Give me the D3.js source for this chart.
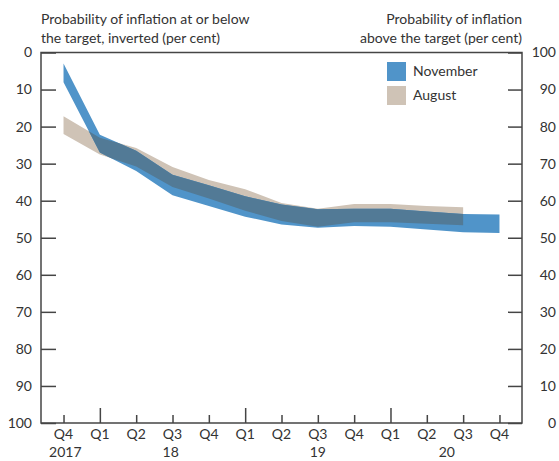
<!DOCTYPE html>
<html>
<head>
<meta charset="utf-8">
<script src="https://cdn.jsdelivr.net/npm/d3@7"></script>
<style>
  html, body { margin: 0; padding: 0; background: #fff; }
  svg { display: block; }
  text { font-family: Lato, "Open Sans", sans-serif; fill: #333; }
</style>
</head>
<body>
<div id="chart"></div>
<script>
// ---- data ----
const quarters = ["Q4","Q1","Q2","Q3","Q4","Q1","Q2","Q3","Q4","Q1","Q2","Q3","Q4"];
const years = ["2017","18","19","20"];
const yearAt = [0.05, 2.95, 7, 10.55];          // quarter index under which each year label sits
const yearStart = [1, 5, 9];                    // indices of Q1 ticks (long ticks)
const leftTicks = [0,10,20,30,40,50,60,70,80,90,100];
const rightTicks = [100,90,80,70,60,50,40,30,20,10,0];

// probability of inflation at or below target, inverted (per cent) - band edges
const novTop    = [3.0, 22.2, 26.5, 33.0, 35.8, 38.8, 41.0, 42.3, 42.2, 42.2, 42.9, 43.6, 43.7];
const novBottom = [8.0, 27.0, 32.0, 38.5, 41.4, 44.3, 46.4, 47.3, 46.8, 47.0, 47.8, 48.5, 48.7];
const augTop    = [17.2, 23.0, 25.8, 30.9, 34.4, 36.9, 40.6, 42.2, 40.9, 40.9, 41.4, 41.8];
const augBottom = [22.0, 27.5, 30.8, 36.3, 39.4, 42.7, 45.5, 47.0, 45.8, 45.8, 46.2, 46.6];

const seriesNames = ["November", "August"];
const colors = { November: "#5094c9", August: "#cfc3b6", overlap: "#527a96" };

// ---- layout ----
const W = 559, H = 461;
const plot = { left: 41, right: 522, top: 52.5, bottom: 423 };

const svg = d3.select("#chart").append("svg").attr("width", W).attr("height", H);

const x = d3.scaleLinear().domain([-0.62, 12.62]).range([plot.left, plot.right]);
const yL = d3.scaleLinear().domain([0, 100]).range([plot.top, plot.bottom]);
const yR = d3.scaleLinear().domain([100, 0]).range([plot.top, plot.bottom]);

const nov = novTop.map((t, i) => ({ i, t, b: novBottom[i] }));
const aug = augTop.map((t, i) => ({ i, t, b: augBottom[i] }));

const area = d3.area().x(d => x(d.i)).y0(d => yL(d.b)).y1(d => yL(d.t)).curve(d3.curveLinear);

const defs = svg.append("defs");
defs.append("clipPath").attr("id", "augClip").append("path").attr("d", area(aug));

svg.append("path").attr("d", area(aug)).attr("fill", colors.August);
svg.append("path").attr("d", area(nov)).attr("fill", colors.November);
svg.append("path").attr("d", area(nov)).attr("fill", colors.overlap).attr("clip-path", "url(#augClip)");

// ---- frame ----
const axisColor = "#454545";
svg.append("rect")
  .attr("x", plot.left).attr("y", plot.top)
  .attr("width", plot.right - plot.left).attr("height", plot.bottom - plot.top)
  .attr("fill", "none").attr("stroke", axisColor).attr("stroke-width", 1.5);

// left axis
const gl = svg.append("g").attr("transform", `translate(${plot.left},0)`)
  .call(d3.axisRight(yL).tickValues(leftTicks).tickSize(15).tickFormat(""));
gl.select(".domain").remove();
gl.selectAll("line").attr("stroke", axisColor).attr("stroke-width", 1.5);
svg.append("g").selectAll("text").data(leftTicks).join("text")
  .attr("x", 32).attr("y", d => yL(d)).attr("dy", "0.35em")
  .attr("text-anchor", "end").attr("font-size", 14).text(d => d);

// right axis
const gr = svg.append("g").attr("transform", `translate(${plot.right},0)`)
  .call(d3.axisLeft(yR).tickValues(rightTicks).tickSize(14).tickFormat(""));
gr.select(".domain").remove();
gr.selectAll("line").attr("stroke", axisColor).attr("stroke-width", 1.5);
svg.append("g").selectAll("text").data(rightTicks).join("text")
  .attr("x", 556).attr("y", d => yR(d)).attr("dy", "0.35em")
  .attr("text-anchor", "end").attr("font-size", 14).text(d => d);

// bottom axis
const gb = svg.append("g").attr("transform", `translate(0,${plot.bottom})`)
  .call(d3.axisTop(x).tickValues(d3.range(quarters.length))
        .tickSize(8).tickFormat(""));
gb.select(".domain").remove();
gb.selectAll(".tick line")
  .attr("stroke", axisColor).attr("stroke-width", 1.5)
  .attr("y2", d => yearStart.includes(d) ? -15 : -8);
svg.append("g").selectAll("text").data(quarters).join("text")
  .attr("x", (d, i) => x(i)).attr("y", 434).attr("dy", "0.35em")
  .attr("text-anchor", "middle").attr("font-size", 14).text(d => d);
svg.append("g").selectAll("text").data(years).join("text")
  .attr("x", (d, i) => x(yearAt[i])).attr("y", 452).attr("dy", "0.35em")
  .attr("text-anchor", "middle").attr("font-size", 14).text(d => d);

// axis titles
const lt = svg.append("text").attr("font-size", 14).attr("x", plot.left);
lt.append("tspan").attr("x", plot.left).attr("y", 24).text("Probability of inflation at or below");
lt.append("tspan").attr("x", plot.left).attr("y", 43).text("the target, inverted (per cent)");
const rt = svg.append("text").attr("font-size", 14).attr("text-anchor", "end");
rt.append("tspan").attr("x", plot.right).attr("y", 24).text("Probability of inflation");
rt.append("tspan").attr("x", plot.right).attr("y", 43).text("above the target (per cent)");

// legend
const lg = svg.append("g").attr("transform", "translate(387,62)");
seriesNames.forEach((n, k) => {
  lg.append("rect").attr("x", 0).attr("y", k * 24).attr("width", 19).attr("height", 19)
    .attr("fill", colors[n]);
  lg.append("text").attr("x", 26).attr("y", k * 24 + 9.5).attr("dy", "0.35em")
    .attr("font-size", 14).text(n);
});
</script>
</body>
</html>
